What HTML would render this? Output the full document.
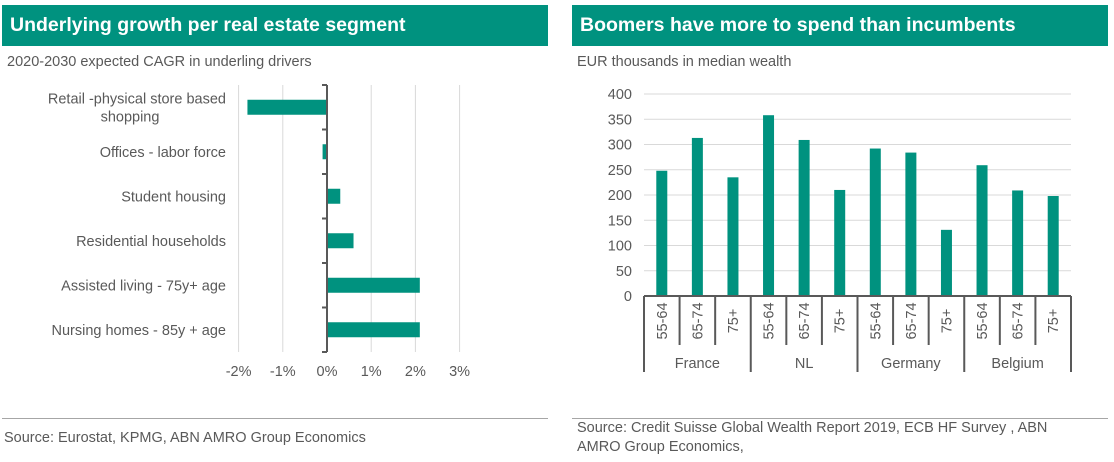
<!DOCTYPE html>
<html><head><meta charset="utf-8"><style>
body{margin:0;width:1114px;height:462px;background:#fff;font-family:"Liberation Sans",Arial,sans-serif;position:relative;overflow:hidden}
.hdr{position:absolute;top:5px;height:41px;background:#00927f;color:#fff;font-weight:bold;font-size:19.5px;line-height:41px;padding-left:8px;box-sizing:border-box}
.sub{position:absolute;top:54px;font-size:14.5px;color:#595959}
.src{position:absolute;font-size:14.5px;color:#595959;line-height:19px}
.rule{position:absolute;top:418px;height:1px;background:#a6a6a6}
svg{position:absolute;left:0;top:0}
text{font-family:"Liberation Sans",Arial,sans-serif;fill:#595959}
</style></head><body>
<div class="hdr" style="left:2px;width:546px">Underlying growth per real estate segment</div>
<div class="hdr" style="left:572px;width:536px">Boomers have more to spend than incumbents</div>
<div class="sub" style="left:7px">2020-2030 expected CAGR in underling drivers</div>
<div class="sub" style="left:577px">EUR thousands in median wealth</div>
<div class="rule" style="left:2px;width:546px"></div>
<div class="rule" style="left:572px;width:536px"></div>
<div class="src" style="left:4px;top:429px">Source: Eurostat, KPMG, ABN AMRO Group Economics</div>
<div class="src" style="left:577px;top:419px">Source: Credit Suisse Global Wealth Report 2019, ECB HF Survey , ABN<br>AMRO Group Economics,</div>
<svg id="chart" width="1114" height="462"></svg>
<script>
const segLabels=[["Retail -physical store based","shopping"],["Offices - labor force"],["Student housing"],["Residential households"],["Assisted living - 75y+ age"],["Nursing homes - 85y + age"]];
const growth=[-1.8,-0.1,0.3,0.6,2.1,2.1];
const xTicks=[-2,-1,0,1,2,3];
const ages=["55-64","65-74","75+","55-64","65-74","75+","55-64","65-74","75+","55-64","65-74","75+"];
const countries=["France","NL","Germany","Belgium"];
const wealth=[248,313,235,358,309,210,292,284,131,259,209,198];
const yTicks=[0,50,100,150,200,250,300,350,400];

const svg=document.getElementById('chart');
const NS="http://www.w3.org/2000/svg";
function mk(t,a,p){const e=document.createElementNS(NS,t);for(const k in a)e.setAttribute(k,a[k]);(p||svg).appendChild(e);return e;}
const TEAL="#00927f";
// left chart
const lx=v=>327+v*44.2;
const top1=85,bot1=352,band1=(bot1-top1)/growth.length;
xTicks.forEach(t=>{
  if(t!==0){const g=mk('line',{x1:lx(t),x2:lx(t),y1:top1,y2:bot1,stroke:'#d9d9d9','stroke-width':1});
  
  }
  const tx=mk('text',{x:lx(t),y:376,'text-anchor':'middle','font-size':14.5});tx.textContent=t+'%';
  
  
});
growth.forEach((v,i)=>{
  const cy=top1+band1*(i+0.5);
  const r=mk('rect',{x:Math.min(lx(0),lx(v)),y:cy-7.5,width:Math.abs(lx(v)-lx(0)),height:15,fill:TEAL});
  
  
  const lines=segLabels[i];
  lines.forEach((s,j)=>{
    const tx=mk('text',{x:226,y:cy+5+(j-(lines.length-1)/2)*18,'text-anchor':lines.length>1&&j==1?'middle':'end','font-size':14.5});
    if(lines.length>1&&j==1)tx.setAttribute('x',130);
    tx.textContent=s;
    
    
  });
});
const ax=mk('line',{x1:lx(0),x2:lx(0),y1:top1,y2:bot1,stroke:'#595959','stroke-width':2});


for(let i=0;i<=growth.length;i++){mk('line',{x1:lx(0)-5,x2:lx(0),y1:top1+band1*i,y2:top1+band1*i,stroke:'#595959','stroke-width':2});}
// right chart
const L=644,R=1071,yb=296,yt=94;
const yv=v=>yb-(v/400)*(yb-yt);
const bw=(R-L)/wealth.length;
yTicks.forEach(t=>{
  if(t>0){const g=mk('line',{x1:L,x2:R,y1:yv(t),y2:yv(t),stroke:'#d9d9d9','stroke-width':1});
  
  }
  const tx=mk('text',{x:632,y:yv(t)+5,'text-anchor':'end','font-size':14.5});tx.textContent=t;
  
  
});
wealth.forEach((v,i)=>{
  const cx=L+bw*(i+0.5);
  const r=mk('rect',{x:cx-5.5,y:yv(v),width:11,height:yb-yv(v),fill:TEAL});
  
  
  const tx=mk('text',{x:0,y:0,'text-anchor':'middle','font-size':14.5,transform:`translate(${cx+5},${321}) rotate(-90)`});
  tx.textContent=ages[i];
  
  
});
mk('line',{x1:L,x2:R,y1:yb,y2:yb,stroke:'#595959','stroke-width':2});
for(let i=0;i<=wealth.length;i++){
  const x=L+bw*i;const outer=i%3===0;
  mk('line',{x1:x,x2:x,y1:yb,y2:outer?372:345,stroke:'#595959','stroke-width':2});
}
countries.forEach((c,k)=>{
  const tx=mk('text',{x:L+bw*(3*k+1.5),y:368,'text-anchor':'middle','font-size':14.5});tx.textContent=c;
  
  
});
</script>
</body></html>
